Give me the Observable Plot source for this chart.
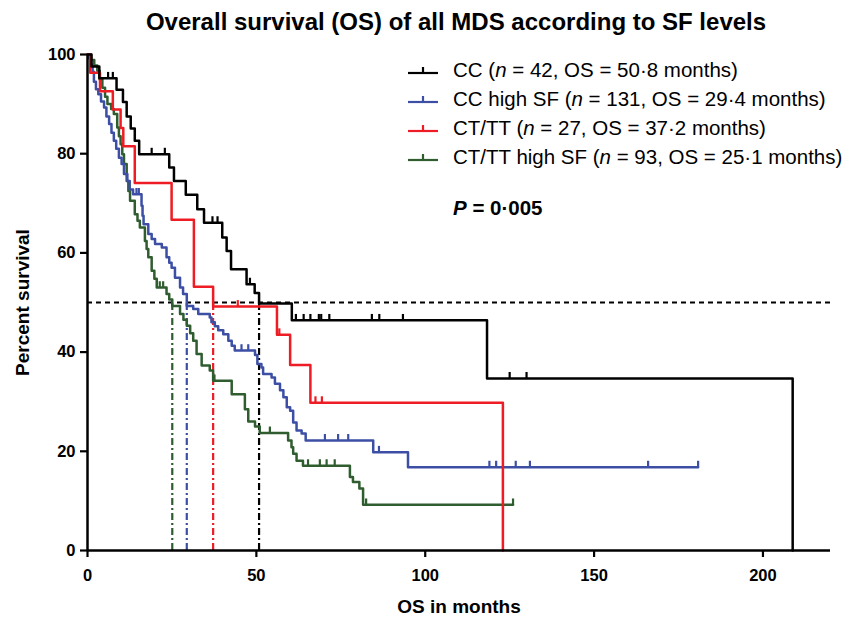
<!DOCTYPE html>
<html><head><meta charset="utf-8">
<script src="https://cdn.jsdelivr.net/npm/d3@7"></script>
<script src="https://cdn.jsdelivr.net/npm/@observablehq/plot@0.6"></script>
<style>
body{margin:0;background:#fff;}
#wrap{position:relative;width:850px;height:617px;font-family:"Liberation Sans",Arial,sans-serif;color:#000;}
#wrap svg [aria-label="x-axis"] .tick line,#wrap svg [aria-label="y-axis"] .tick line{stroke-width:2.2px;}
#wrap svg [aria-label="x-axis tick"] path,#wrap svg [aria-label="y-axis tick"] path{stroke-width:2.2px;}
.leg{position:absolute;left:408px;height:24px;display:flex;align-items:center;font-size:20.5px;white-space:nowrap;}
.leg svg{margin-right:13px;}
.pval{position:absolute;left:453px;font-size:20.5px;font-weight:bold;height:24px;line-height:24px;}
</style></head><body><div id="wrap"></div>
<script>
// ---- data ----
const seriesNames = ["CC", "CC high SF", "CT/TT", "CT/TT high SF"];
const seriesColors = ["#000000", "#3c4fa5", "#ee1c24", "#2f5d2f"];
const nValues = [42, 131, 27, 93];
const medianOS = [50.8, 29.4, 37.2, 25.1];
const xTicks = [0, 50, 100, 150, 200];
const yTicks = [0, 20, 40, 60, 80, 100];

const ccTime = [0, 1.2, 3.5, 8.6, 10.5, 11.6, 12.8, 14.0, 15.3, 24.2, 25.6, 29.1, 32.5, 34.5, 39.9, 41.2, 42.5, 47.1, 49.5, 50.8, 60.5, 118.3, 208.8];
const ccSurv = [100, 97.6, 95.2, 92.9, 90.4, 87.5, 85.1, 82.6, 79.9, 77.2, 74.5, 71.7, 68.8, 66.1, 63.1, 60.4, 56.7, 53.7, 51.9, 49.8, 46.4, 34.7, 0];
const ccCensor = [6.1, 7.5, 19.0, 22.9, 37.0, 38.5, 48.1, 61.7, 64.0, 66.0, 68.5, 69.2, 71.6, 84.2, 86.4, 93.4, 125.0, 130.0];

const bluTime = [0, 0.5, 1.0, 1.5, 1.9, 2.5, 3.2, 4.0, 4.9, 5.6, 6.4, 7.1, 7.8, 8.5, 9.3, 10.1, 10.8, 11.8, 12.5, 13.5, 16.0, 16.3, 16.6, 18.0, 19.0, 20.0, 22.0, 23.4, 24.2, 24.9, 25.9, 27.4, 28.3, 29.4, 31.3, 32.8, 36.2, 36.7, 37.7, 38.7, 40.2, 41.7, 42.7, 43.6, 49.6, 50.3, 51.5, 52.0, 54.5, 55.5, 57.0, 58.0, 59.0, 60.0, 60.9, 61.9, 63.4, 64.6, 84.6, 94.9, 180.8];
const bluSurv = [100, 99.2, 98.0, 96.5, 94.5, 93.0, 92.0, 90.5, 89.3, 87.5, 86.0, 84.2, 82.6, 81.0, 79.2, 77.9, 75.9, 74.5, 72.8, 71.8, 69.5, 67.5, 65.8, 63.8, 62.8, 61.8, 61.1, 59.1, 58.0, 57.0, 55.0, 53.0, 51.7, 49.3, 48.7, 47.7, 47.0, 46.0, 45.2, 44.4, 43.6, 42.3, 41.3, 40.3, 39.4, 37.6, 36.9, 35.6, 34.9, 33.6, 32.3, 30.9, 28.9, 28.2, 25.8, 24.2, 23.6, 22.2, 19.8, 16.8, 16.8];
const bluCensor = [14.5, 15.2, 45.6, 47.6, 70.3, 74.2, 77.2, 86.3, 119.0, 121.0, 126.8, 131.0, 166.0, 180.8];

const redTime = [0, 0.8, 3.7, 7.5, 9.8, 10.6, 14.0, 24.9, 31.5, 37.2, 56.1, 60.0, 66.0, 123.0];
const redSurv = [100, 96.3, 92.6, 88.9, 85.2, 81.5, 74.1, 66.7, 53.2, 49.2, 43.5, 37.4, 29.8, 0];
const redCensor = [44.5, 56.8, 67.5, 69.4];

const grnTime = [0, 1.0, 2.0, 2.9, 3.6, 4.4, 5.2, 5.9, 7.0, 7.8, 8.8, 9.3, 9.8, 10.3, 10.8, 11.6, 12.1, 12.6, 14.0, 14.8, 15.5, 17.0, 17.5, 18.0, 19.0, 19.8, 20.5, 23.4, 24.2, 25.1, 27.4, 28.4, 29.4, 30.4, 31.3, 32.3, 33.8, 36.2, 37.2, 42.7, 46.6, 47.6, 49.6, 51.0, 59.4, 60.4, 60.9, 61.9, 63.8, 77.7, 78.6, 80.5, 81.6, 126.0];
const grnSurv = [100, 98.9, 97.8, 96.7, 95.0, 93.3, 91.5, 90.0, 89.0, 88.0, 85.3, 83.5, 81.9, 79.9, 77.9, 74.5, 72.5, 70.5, 67.8, 66.5, 65.1, 62.4, 60.8, 59.1, 56.4, 54.8, 53.0, 51.7, 50.6, 49.3, 47.7, 46.5, 45.3, 43.8, 42.3, 39.6, 37.3, 36.3, 34.2, 31.5, 28.5, 26.0, 25.0, 23.7, 22.2, 20.8, 19.5, 18.1, 17.1, 14.8, 13.8, 12.5, 9.2, 9.2];
const grnCensor = [21.4, 22.4, 37.6, 54.0, 65.3, 68.8, 70.8, 73.2, 82.5, 126.0];

const titleText = "Overall survival (OS) of all MDS according to SF levels";
const xLabel = "OS in months";
const yLabel = "Percent survival";
const pText = "0·005";

// ---- build tables ----
const curves = [
  {time: ccTime, surv: ccSurv, censor: ccCensor},
  {time: bluTime, surv: bluSurv, censor: bluCensor},
  {time: redTime, surv: redSurv, censor: redCensor},
  {time: grnTime, surv: grnSurv, censor: grnCensor}
].map((c, i) => ({...c, name: seriesNames[i], color: seriesColors[i], median: medianOS[i], n: nValues[i]}));

function survAt(c, t) {
  let v = c.surv[0];
  for (let i = 0; i < c.time.length; i++) if (c.time[i] <= t) v = c.surv[i];
  return v;
}

const tickSymbol = {draw(ctx, size) { const h = Math.sqrt(size / Math.PI) * 1.6; ctx.moveTo(0, 0); ctx.lineTo(0, -h); }};

const marks = [];
curves.forEach(c => {
  marks.push(Plot.ruleX([c.median], {y1: 0, y2: 50, stroke: c.color, strokeWidth: 2.2, strokeDasharray: "7,3,2,3"}));
});
marks.push(Plot.ruleY([50], {stroke: "#000", strokeWidth: 2.2, strokeDasharray: "5,4"}));
[3, 1, 2, 0].forEach(k => {
  const c = curves[k];
  const pts = c.time.map((t, i) => ({t, s: c.surv[i]}));
  marks.push(Plot.line(pts, {x: "t", y: "s", curve: "step-after", stroke: c.color, strokeWidth: 2.5}));
  const cens = c.censor.map(t => ({t, s: survAt(c, t)}));
  marks.push(Plot.dot(cens, {x: "t", y: "s", r: 4, symbol: tickSymbol, stroke: c.color, fill: "none", strokeWidth: 2.2}));
});
marks.push(Plot.ruleX([0], {stroke: "#000", strokeWidth: 2.5}));
marks.push(Plot.ruleY([0], {stroke: "#000", strokeWidth: 2.5}));
marks.push(Plot.text([titleText], {text: d => d, frameAnchor: "top", dy: -32, dx: -3, fontSize: 24, fontWeight: "bold", textAnchor: "middle", lineAnchor: "middle"}));
marks.push(Plot.text([xLabel], {text: d => d, frameAnchor: "bottom", dy: 56, fontSize: 19, fontWeight: "bold", textAnchor: "middle", lineAnchor: "middle"}));
marks.push(Plot.text([yLabel], {text: d => d, frameAnchor: "left", dx: -65, rotate: -90, fontSize: 19, fontWeight: "bold", textAnchor: "middle", lineAnchor: "middle"}));

const chart = Plot.plot({
  width: 850, height: 617,
  marginLeft: 87, marginRight: 20, marginTop: 54, marginBottom: 67,
  x: {domain: [0, 220], ticks: xTicks, tickSize: 7, tickPadding: 12, label: null},
  y: {domain: [0, 100], ticks: yTicks, tickSize: 7, tickPadding: 5, label: null},
  style: {fontFamily: "'Liberation Sans', Arial, sans-serif", fontSize: "16.5px", fontWeight: "bold", background: "#fff", color: "#000", overflow: "visible"},
  marks
});
const wrap = document.getElementById("wrap");
wrap.appendChild(chart);

curves.forEach((c, i) => {
  const row = document.createElement("div");
  row.className = "leg";
  row.style.top = (58 + i * 29) + "px";
  const os = String(c.median).replace(".", "·");
  row.innerHTML = `<svg width="32" height="14"><line x1="0" y1="10" x2="30" y2="10" stroke="${c.color}" stroke-width="2.2"/><line x1="15" y1="10" x2="15" y2="4" stroke="${c.color}" stroke-width="2.2"/></svg><span>${c.name} (<i>n</i> = ${c.n}, OS = ${os} months)</span>`;
  wrap.appendChild(row);
});
const p = document.createElement("div");
p.className = "pval";
p.style.top = "196px";
p.innerHTML = `<i>P</i> = ${pText}`;
wrap.appendChild(p);
</script></body></html>
